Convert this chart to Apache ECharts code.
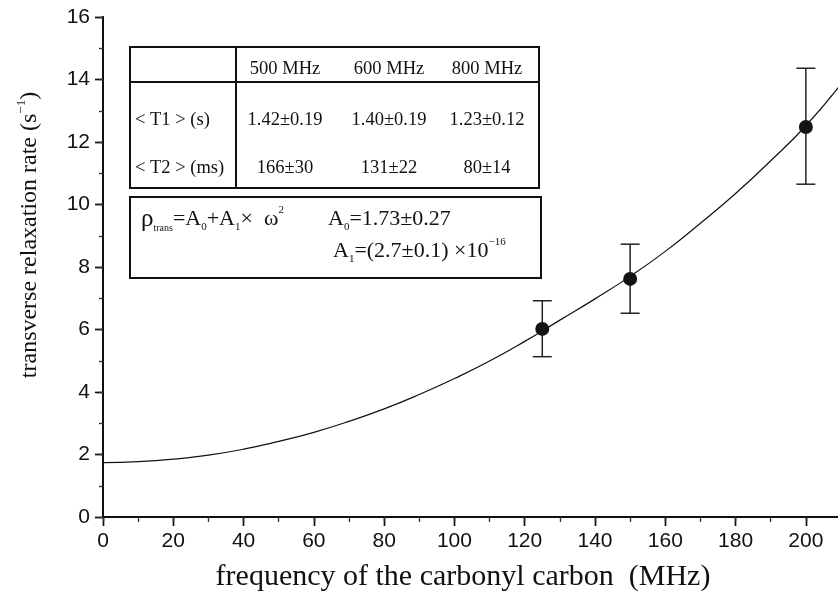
<!DOCTYPE html>
<html><head><meta charset="utf-8">
<script src="https://cdn.jsdelivr.net/npm/echarts@6/dist/echarts.min.js"></script>
<style>html,body{margin:0;padding:0;background:#fff}#c{width:838px;height:596px}</style>
</head><body><div id="c"></div>
<script>
// ---- data ----
const pointFreq = [125, 150, 200];
const pointRate = [6.02, 7.62, 12.48];
const errLow = [5.13, 6.52, 10.65];
const errHigh = [6.92, 8.73, 14.36];
const fitFreq = [0,10,20,30,40,50,60,70,80,90,100,110,120,130,140,150,160,170,180,190,200,210];
const fitRate = [1.74,1.77,1.85,1.98,2.17,2.42,2.71,3.06,3.46,3.92,4.43,4.99,5.62,6.30,6.98,7.70,8.50,9.40,10.35,11.40,12.52,13.85];
const tableHeader = ['500 MHz', '600 MHz', '800 MHz'];
const tableRowLabels = ['< T1 > (s)', '< T2 > (ms)'];
const t1Values = ['1.42±0.19', '1.40±0.19', '1.23±0.12'];
const t2Values = ['166±30', '131±22', '80±14'];
const xTitle = 'frequency of the carbonyl carbon  (MHz)';
const yTitle = 'transverse relaxation rate (s';

// ---- layout ----
const colCenters = [285, 389, 487];
const serif = '"Liberation Serif", "Times New Roman", serif';
const sans = '"Liberation Sans", Arial, sans-serif';

const chart = echarts.init(document.getElementById('c'));
const axisLine = {show: true, lineStyle: {color: '#111', width: 1.6}};
const tickStyle = {color: '#111', width: 1.4};
const minorStyle = {color: '#333', width: 1.2};

function xAx(pos, interval, len, inside, labels, extra) {
  return Object.assign({
    type: 'value', position: pos, min: 0, max: 210, interval: interval,
    axisLine: axisLine, splitLine: {show: false},
    axisTick: {show: true, inside: inside, length: len, lineStyle: interval === 20 ? tickStyle : minorStyle},
    axisLabel: {show: labels, color: '#111', fontFamily: sans, fontSize: 21, margin: 14, showMaxLabel: false}
  }, extra || {});
}
function yAx(pos, interval, len, inside, labels, extra) {
  return Object.assign({
    type: 'value', position: pos, min: 0, max: 16, interval: interval,
    axisLine: axisLine, splitLine: {show: false},
    axisTick: {show: true, inside: inside, length: len, lineStyle: interval === 2 ? tickStyle : minorStyle},
    axisLabel: {show: labels, color: '#111', fontFamily: sans, fontSize: 21, margin: 13}
  }, extra || {});
}

const tFont = '18.5px ' + serif;
const texts = [];
tableHeader.forEach((t, i) => texts.push({type: 'text', x: colCenters[i], y: 69, style: {text: t, font: tFont, fill: '#111', align: 'center', verticalAlign: 'middle'}}));
tableRowLabels.forEach((t, i) => texts.push({type: 'text', x: 135, y: [120, 168][i], style: {text: t, font: tFont, fill: '#111', align: 'left', verticalAlign: 'middle'}}));
t1Values.forEach((t, i) => texts.push({type: 'text', x: colCenters[i], y: 120, style: {text: t, font: tFont, fill: '#111', align: 'center', verticalAlign: 'middle'}}));
t2Values.forEach((t, i) => texts.push({type: 'text', x: colCenters[i], y: 168, style: {text: t, font: tFont, fill: '#111', align: 'center', verticalAlign: 'middle'}}));

const rich = {
  m: {fontSize: 22, fontFamily: serif, lineHeight: 28, color: '#111'},
  rho: {fontSize: 25, fontFamily: serif, lineHeight: 28, color: '#111'},
  sb: {fontSize: 10, fontFamily: serif, lineHeight: 10, verticalAlign: 'bottom', color: '#111'},
  sub: {fontSize: 11, fontFamily: serif, lineHeight: 11, verticalAlign: 'bottom', color: '#111'},
  sup: {fontSize: 11, fontFamily: serif, lineHeight: 17, verticalAlign: 'top', color: '#111'}
};
texts.push({type: 'text', x: 141, y: 205, style: {text: '{rho|ρ}{sb|trans}{m|=A}{sub|0}{m|+A}{sub|1}{m|×  ω}{sup|2}', rich: rich, fill: '#111'}});
texts.push({type: 'text', x: 328, y: 205, style: {text: '{m|A}{sub|0}{m|=1.73±0.27}', rich: rich, fill: '#111'}});
texts.push({type: 'text', x: 333, y: 237, style: {text: '{m|A}{sub|1}{m|=(2.7±0.1) ×10}{sup|−16}', rich: rich, fill: '#111'}});

const option = {
  backgroundColor: '#fff',
  animation: false,
  grid: {left: 103, top: 17, width: 738, height: 500, outerBoundsMode: 'none', containLabel: false},
  xAxis: [
    xAx('bottom', 20, 9, false, true, {
      name: xTitle, nameLocation: 'middle', nameGap: 45,
      nameTextStyle: {fontFamily: serif, fontSize: 30, color: '#111', padding: [0, 18, 0, 0]}
    }),
    xAx('bottom', 10, 5, false, false),
    xAx('top', 20, 9, true, false),
    xAx('top', 10, 4, true, false)
  ],
  yAxis: [
    yAx('left', 2, 8, false, true, {
      name: '{a|' + yTitle + '}{b|−1}{a|)}', nameLocation: 'middle', nameGap: 58,
      nameTextStyle: {padding: [0, 0, 0, 64], rich: {
        a: {fontFamily: serif, fontSize: 24, color: '#111', lineHeight: 30},
        b: {fontFamily: serif, fontSize: 13, color: '#111', lineHeight: 18, verticalAlign: 'top'}
      }}
    }),
    yAx('left', 1, 4, false, false),
    yAx('right', 2, 8, true, false),
    yAx('right', 1, 4, true, false)
  ],
  series: [
    {type: 'line', xAxisIndex: 0, yAxisIndex: 0, smooth: true, showSymbol: false, silent: true,
     data: fitFreq.map((x, i) => [x, fitRate[i]]), lineStyle: {color: '#111', width: 1.2}},
    {type: 'custom', xAxisIndex: 0, yAxisIndex: 0, silent: true,
     data: pointFreq.map((x, i) => [x, errLow[i], errHigh[i]]),
     renderItem: function (params, api) {
       const lo = api.coord([api.value(0), api.value(1)]);
       const hi = api.coord([api.value(0), api.value(2)]);
       const hw = 9.5;
       const st = {stroke: '#222', lineWidth: 1.5};
       return {type: 'group', children: [
         {type: 'line', shape: {x1: lo[0], y1: lo[1], x2: hi[0], y2: hi[1]}, style: st},
         {type: 'line', shape: {x1: lo[0] - hw, y1: lo[1], x2: lo[0] + hw, y2: lo[1]}, style: st},
         {type: 'line', shape: {x1: hi[0] - hw, y1: hi[1], x2: hi[0] + hw, y2: hi[1]}, style: st}
       ]};
     }},
    {type: 'scatter', xAxisIndex: 0, yAxisIndex: 0, symbol: 'circle', symbolSize: 14, silent: true,
     data: pointFreq.map((x, i) => [x, pointRate[i]]), itemStyle: {color: '#141414', opacity: 1}}
  ],
  graphic: [
    {type: 'rect', shape: {x: 130, y: 47, width: 409, height: 141}, style: {fill: 'none', stroke: '#111', lineWidth: 2}},
    {type: 'line', shape: {x1: 236, y1: 47, x2: 236, y2: 188}, style: {stroke: '#111', lineWidth: 2}},
    {type: 'line', shape: {x1: 130, y1: 82, x2: 539, y2: 82}, style: {stroke: '#111', lineWidth: 2}},
    {type: 'rect', shape: {x: 130, y: 197, width: 411, height: 81}, style: {fill: '#fff', stroke: '#111', lineWidth: 2}}
  ].concat(texts)
};
chart.setOption(option);
</script></body></html>
